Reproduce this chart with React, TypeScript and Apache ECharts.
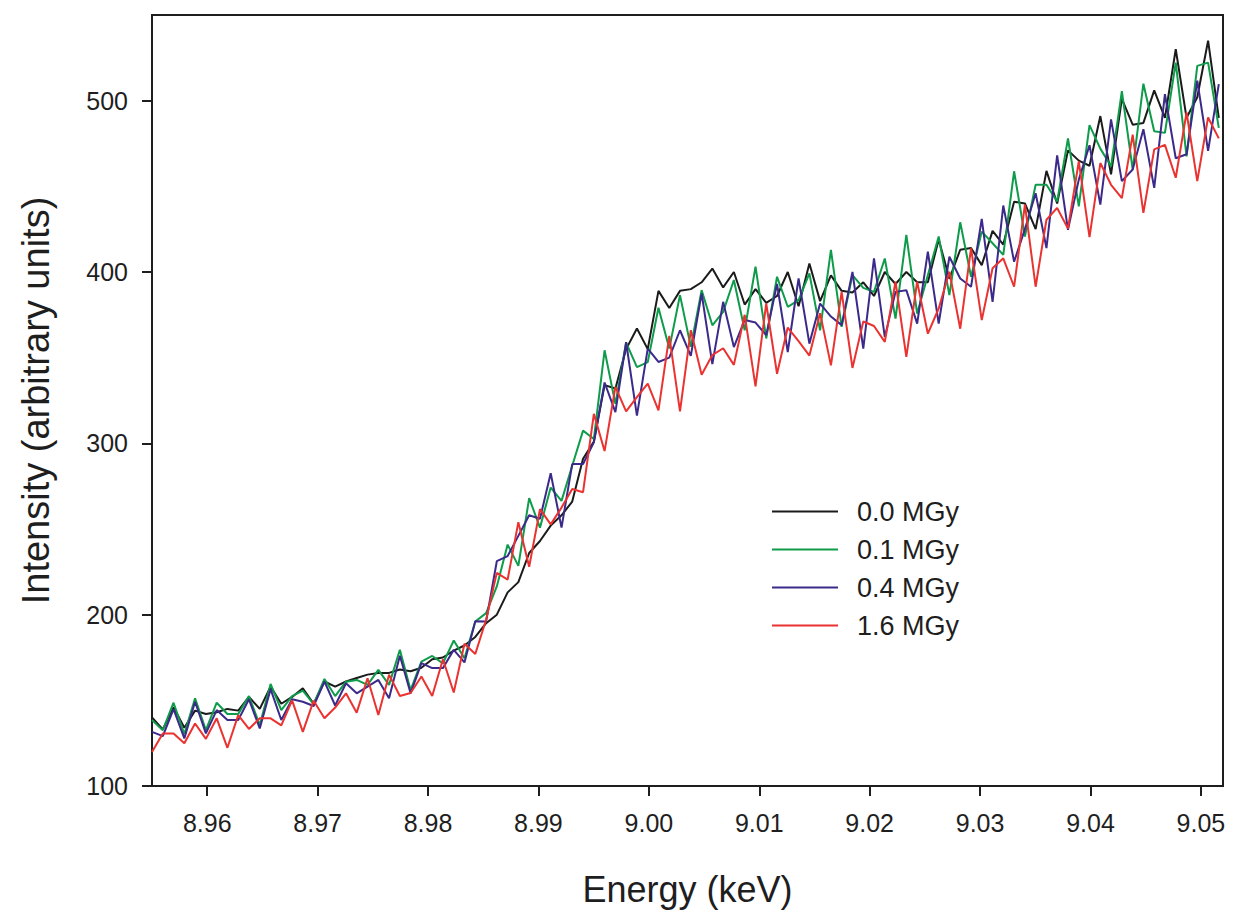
import React, { useEffect, useRef } from "react";
import * as echarts from "echarts";

const ENERGY_KEV = [
  8.955, 8.95598, 8.95695, 8.95793, 8.9589, 8.95988, 8.96086, 8.96183, 8.96281, 8.96378,
  8.96476, 8.96574, 8.96671, 8.96769, 8.96866, 8.96964, 8.97062, 8.97159, 8.97257, 8.97354,
  8.97452, 8.9755, 8.97647, 8.97745, 8.97842, 8.9794, 8.98038, 8.98135, 8.98233, 8.9833,
  8.98428, 8.98526, 8.98623, 8.98721, 8.98818, 8.98916, 8.99014, 8.99111, 8.99209, 8.99306,
  8.99404, 8.99502, 8.99599, 8.99697, 8.99794, 8.99892, 8.9999, 9.00087, 9.00185, 9.00282,
  9.0038, 9.00478, 9.00575, 9.00673, 9.0077, 9.00868, 9.00966, 9.01063, 9.01161, 9.01258,
  9.01356, 9.01454, 9.01551, 9.01649, 9.01746, 9.01844, 9.01942, 9.02039, 9.02137, 9.02234,
  9.02332, 9.0243, 9.02527, 9.02625, 9.02722, 9.0282, 9.02918, 9.03015, 9.03113, 9.0321,
  9.03308, 9.03406, 9.03503, 9.03601, 9.03698, 9.03796, 9.03894, 9.03991, 9.04089, 9.04186,
  9.04284, 9.04382, 9.04479, 9.04577, 9.04674, 9.04772, 9.0487, 9.04967, 9.05065, 9.05162,
];

const DOSE_0_0 = [
  140, 133, 146, 134, 144, 142, 143, 145, 144, 152,
  145, 158, 148, 152, 157, 148, 161, 158, 161, 163,
  165, 166, 166, 168, 167, 169, 174, 175, 179, 182,
  187, 195, 200, 213, 219, 236, 243, 252, 258, 266,
  291, 301, 334, 332, 355, 367, 355, 389, 379, 389,
  390, 394, 402, 391, 400, 381, 390, 382, 386, 400,
  380, 405, 383, 398, 389, 388, 394, 386, 400, 393,
  400, 394, 394, 419, 396, 413, 414, 404, 424, 416,
  441, 440, 425, 459, 440, 471, 465, 462, 491, 457,
  501, 486, 487, 506, 490, 530, 490, 502, 535, 490,
];

const DOSE_0_1 = [
  138.5, 132.6, 148.6, 130.3, 151.2, 132.6, 148.6, 142, 142, 152.5,
  135.6, 159.6, 144.3, 152.5, 155.7, 147.8, 162.5, 152.5, 160.9, 161.9,
  159, 167.8, 159, 179.5, 156, 172.6, 175.9, 171.6, 184.9, 174.5,
  196, 200.9, 216.5, 240.9, 228.5, 268, 250.8, 274.2, 266.4, 286.9,
  307.4, 302.5, 354.3, 323, 358.8, 344.5, 347.4, 379.1, 355.3, 386.5,
  356.3, 389.4, 368.9, 376.7, 395.3, 366, 403.1, 361.2, 397.2, 379.7,
  383.6, 399.2, 366, 412.9, 368, 398.2, 390.7, 388.4, 407.9, 372.8,
  421.6, 375.7, 398.2, 420.7, 386.5, 429, 397.2, 423.6, 416.8, 410,
  458.8, 420.7, 450.9, 450.9, 441.2, 477.9, 438.3, 485.7, 472, 461.7,
  505.6, 459.8, 509.9, 482.2, 481.2, 522.2, 467.5, 520.3, 522.2, 484.1,
];

const DOSE_0_4 = [
  131.6, 129.1, 144.8, 127.8, 149.2, 130.7, 144.3, 138.5, 138.5, 150.6,
  133.6, 156.5, 138.5, 150.6, 149.2, 146.7, 160.9, 147, 160, 154.1,
  158, 161.9, 151.2, 176, 154.1, 171.7, 168.8, 168.8, 179.5, 172.1,
  196.1, 196, 231.2, 234.2, 246, 258, 256, 282.5, 250.8, 287.9,
  287.9, 300.6, 335.5, 318.2, 359, 316.2, 355.3, 347.5, 350, 366,
  351, 387.5, 346.2, 382.6, 356.2, 372, 370.5, 363.1, 393, 353.3,
  396.2, 358.2, 381.6, 374, 369, 400, 355.3, 408, 362, 388.4,
  389.4, 369.9, 411.9, 369.9, 408.9, 396.2, 391.4, 431, 382.6, 438.8,
  406, 425, 446, 414, 468.1, 424.6, 453.9, 474, 439.3, 489.1,
  453, 459.8, 483.3, 449.1, 503.8, 466.4, 468.7, 511.7, 470.7, 509.7,
];

const DOSE_1_6 = [
  119.9, 130.7, 130.7, 125, 136.5, 127.5, 139.5, 122.3, 141.4, 133.3,
  139.5, 139.5, 135.4, 150, 131.6, 149.8, 139.5, 145.8, 154.1, 142.8,
  162.9, 141.4, 164.9, 152.5, 154.3, 163.9, 152.5, 174, 154.6, 183,
  177, 197, 224.4, 220.5, 254, 228, 261.6, 252.7, 262.5, 273.3,
  271.5, 317.2, 295.5, 333, 318.6, 327, 334.8, 319.2, 362.7, 318.6,
  366, 340, 351.5, 355.5, 345.8, 375, 333.3, 381.6, 340.6, 367.6,
  359.6, 351.2, 376, 345.5, 388.4, 344, 371.1, 368.5, 359.2, 394.3,
  350.4, 394.3, 364, 378.7, 400.2, 366.9, 413.8, 371.9, 402.2, 408,
  391.4, 439.3, 391.4, 430.5, 437.4, 425.3, 464.6, 420.4, 463.6, 450.9,
  443.1, 480.2, 434.5, 471.6, 474.2, 455, 493.1, 453, 490.2, 478,
];

const SERIES_NAMES = ["0.0 MGy", "0.1 MGy", "0.4 MGy", "1.6 MGy"];
const SERIES_VALUES = [DOSE_0_0, DOSE_0_1, DOSE_0_4, DOSE_1_6];
const SERIES_COLORS = ["#1b1b1b", "#0e9c4b", "#3b2a8a", "#ea3330"];

const X_TICKS = [8.96, 8.97, 8.98, 8.99, 9.0, 9.01, 9.02, 9.03, 9.04, 9.05];
const Y_TICKS = [100, 200, 300, 400, 500];

const FONT = "'Liberation Sans', Arial, Helvetica, sans-serif";
const INK = "#1e1e1e";

export default function App() {
  const ref = useRef<HTMLDivElement>(null);

  useEffect(() => {
    if (!ref.current) return;
    const chart = echarts.init(ref.current, undefined, { renderer: "svg" });

    const series = SERIES_NAMES.map((name, k) => ({
      name,
      type: "line",
      symbol: "none",
      smooth: false,
      data: ENERGY_KEV.map((e, i) => [e, SERIES_VALUES[k][i]]),
      lineStyle: { color: SERIES_COLORS[k], width: 2 },
      itemStyle: { color: SERIES_COLORS[k] },
      emphasis: { disabled: true },
    }));

    chart.setOption({
      animation: false,
      backgroundColor: "#ffffff",
      grid: {
        left: 152,
        right: 15,
        top: 15,
        bottom: 127,
        show: true,
        borderColor: INK,
        borderWidth: 2,
        containLabel: false,
      },
      legend: {
        orient: "vertical",
        left: 772,
        top: 498,
        icon: "rect",
        itemWidth: 66,
        itemHeight: 2,
        itemGap: 11,
        padding: 0,
        selectedMode: false,
        data: SERIES_NAMES,
        textStyle: {
          fontFamily: FONT,
          fontSize: 27,
          lineHeight: 27,
          color: INK,
          padding: [0, 0, 0, 14],
        },
      },
      xAxis: {
        type: "value",
        min: 8.955,
        max: 9.052,
        name: "Energy (keV)",
        nameLocation: "middle",
        nameGap: 85,
        nameTextStyle: { fontFamily: FONT, fontSize: 36, color: INK },
        axisLine: { show: true, lineStyle: { color: INK, width: 2 } },
        axisTick: {
          show: true,
          inside: false,
          length: 10,
          customValues: X_TICKS,
          lineStyle: { color: INK, width: 2 },
        },
        axisLabel: {
          customValues: X_TICKS,
          formatter: (v: number) => v.toFixed(2),
          fontFamily: FONT,
          fontSize: 25,
          color: INK,
          margin: 24,
        },
        splitLine: { show: false },
      },
      yAxis: {
        type: "value",
        min: 100,
        max: 550,
        name: "Intensity (arbitrary units)",
        nameLocation: "middle",
        nameGap: 97,
        nameRotate: 90,
        nameTextStyle: { fontFamily: FONT, fontSize: 38, color: INK },
        axisLine: { show: true, lineStyle: { color: INK, width: 2 } },
        axisTick: {
          show: true,
          inside: false,
          length: 10,
          customValues: Y_TICKS,
          lineStyle: { color: INK, width: 2 },
        },
        axisLabel: {
          customValues: Y_TICKS,
          fontFamily: FONT,
          fontSize: 25,
          color: INK,
          margin: 24,
        },
        splitLine: { show: false },
      },
      series,
    });

    return () => chart.dispose();
  }, []);

  return (
    <div
      ref={ref}
      style={{ position: "fixed", left: 0, top: 0, width: 1238, height: 913, background: "#fff" }}
    />
  );
}
